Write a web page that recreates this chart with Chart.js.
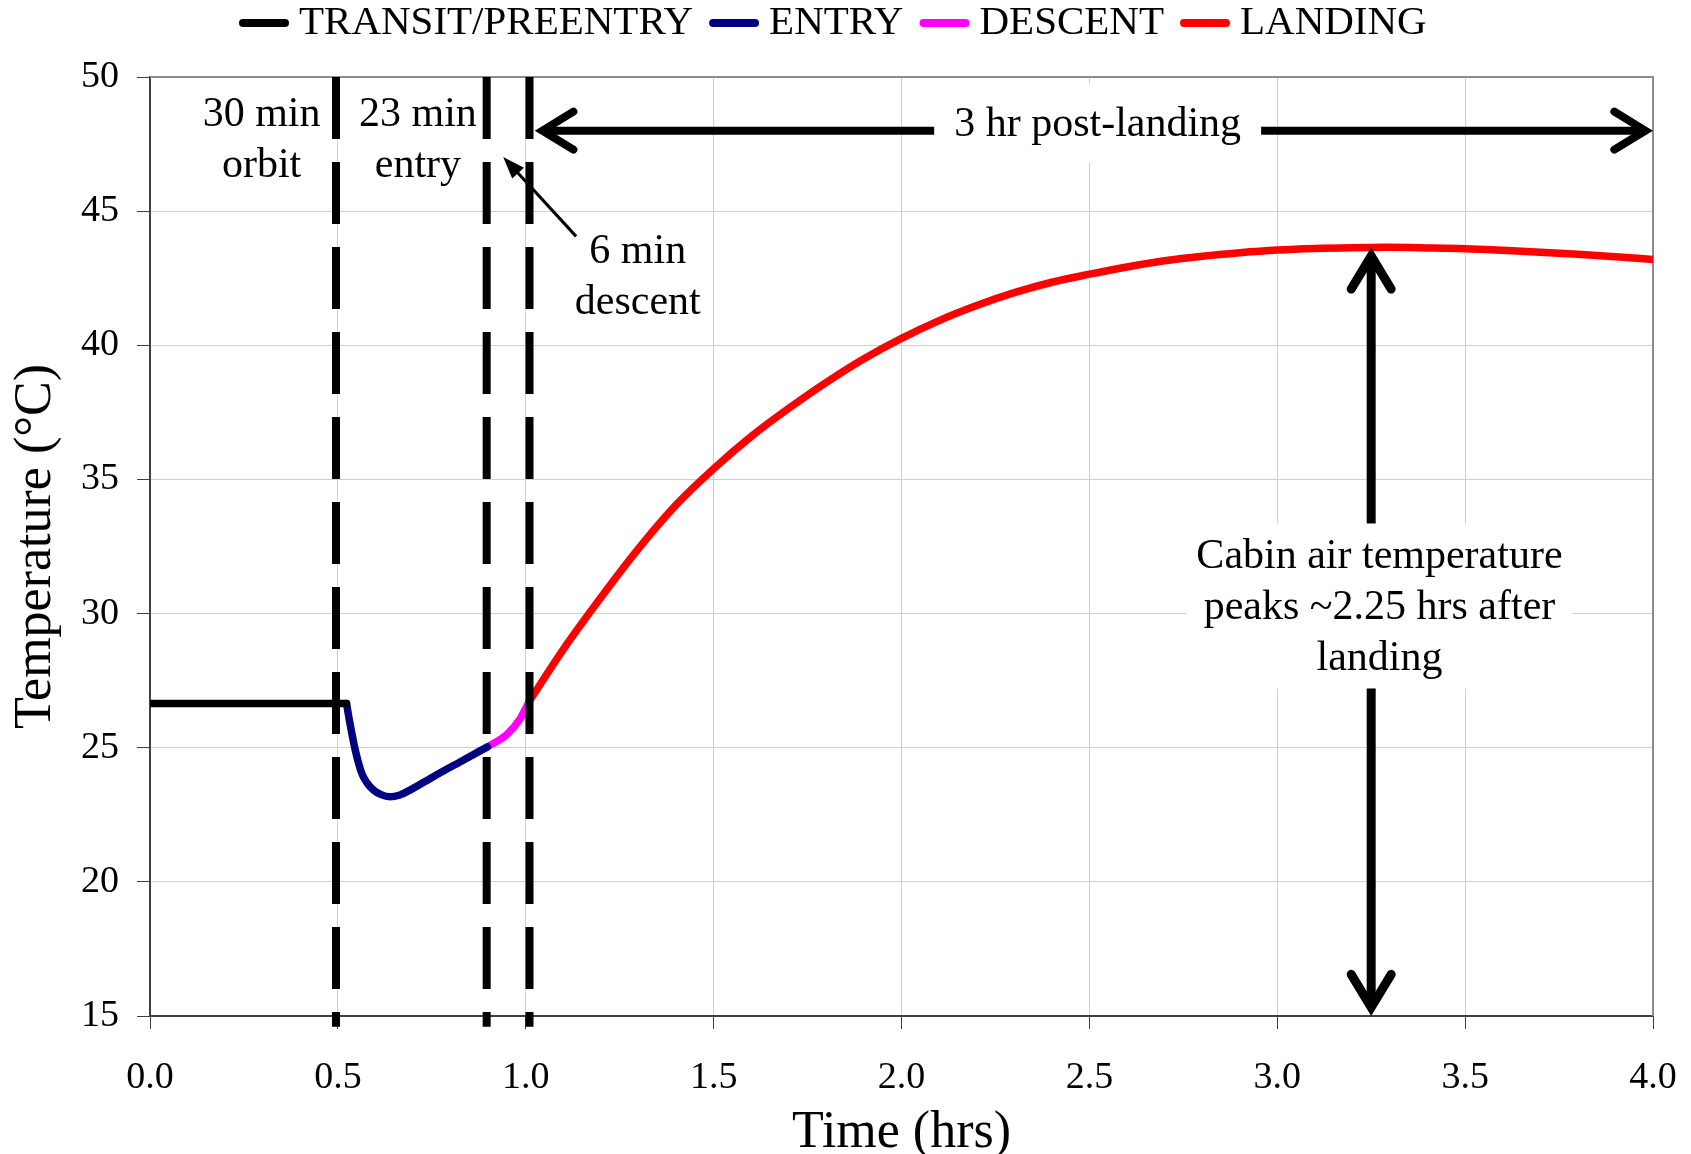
<!DOCTYPE html>
<html>
<head>
<meta charset="utf-8">
<title>Cabin air temperature</title>
<script src="https://cdn.jsdelivr.net/npm/chart.js@4.4.1/dist/chart.umd.min.js"></script>
<style>
  html, body { margin: 0; padding: 0; background: #fff; }
  canvas { display: block; }
</style>
</head>
<body>
<canvas id="tempChart" width="1691" height="1154"></canvas>
<script>
// Cabin air temperature from orbit through entry, descent and 3 hours after landing

const transitHrs = [0, 0.523];
const transitTemp = [26.65, 26.65];

const entryHrs = [0.523, 0.532, 0.546, 0.563, 0.578, 0.595, 0.615, 0.639, 0.665, 0.692, 0.754, 0.825, 0.898];
const entryTemp = [26.65, 25.92, 24.93, 24.07, 23.68, 23.42, 23.25, 23.17, 23.24, 23.42, 23.92, 24.47, 25.03];

const descentHrs = [0.898, 0.949, 0.985, 1.01];
const descentTemp = [25.03, 25.48, 26.08, 26.75];

const landingHrs = [1.01, 1.1, 1.2, 1.3, 1.4, 1.5, 1.6, 1.7, 1.8, 1.9, 2.0, 2.1, 2.2, 2.3, 2.4,
  2.5, 2.6, 2.7, 2.8, 2.9, 3.0, 3.1, 3.2, 3.3, 3.4, 3.5, 3.6, 3.7, 3.8, 3.9, 4.0];
const landingTemp = [26.75, 28.67, 30.6, 32.42, 34.05, 35.4, 36.6, 37.65, 38.62, 39.5, 40.26,
  40.92, 41.48, 41.96, 42.35, 42.65, 42.92, 43.15, 43.32, 43.45, 43.55, 43.61, 43.64, 43.65,
  43.63, 43.6, 43.54, 43.47, 43.39, 43.3, 43.2];

// phase boundaries: end of orbit, end of entry, touchdown
const phaseLineHrs = [0.495, 0.896, 1.01];

// 3 hr post-landing span and the peak marker (landing + 2.25 hrs)
const postLandingSpan = [1.024, 4.0];
const postLandingTemp = 48;
const peakHrs = 3.25;
const peakTemp = 43.65;

const SERIF = "'Liberation Serif', 'Times New Roman', serif";

const notes = [
  { lines: ['30 min', 'orbit'], x: 0.297, y: 48.57 },
  { lines: ['23 min', 'entry'], x: 0.713, y: 48.57 },
  { lines: ['6 min', 'descent'], x: 1.298, y: 43.46 },
  { lines: ['3 hr post-landing'], x: 2.522, y: 48.2, box: [20, 12] },
  { lines: ['Cabin air temperature', 'peaks ~2.25 hrs after', 'landing'], x: 3.272, y: 32.11, box: [10, 4] },
];

function toPoints(xs, ys) {
  return xs.map((x, i) => ({ x, y: ys[i] }));
}

function series(label, xs, ys, color) {
  return {
    label,
    data: toPoints(xs, ys),
    borderColor: color,
    backgroundColor: color,
    borderWidth: 7.5,
    borderCapStyle: 'round',
    pointRadius: 0,
    cubicInterpolationMode: 'monotone',
    order: 1,
  };
}

function phaseLine(x) {
  return {
    label: '',
    isPhaseLine: true,
    data: [{ x, y: 50 }, { x, y: 14.6 }],
    borderColor: '#000',
    borderWidth: 8,
    borderDash: [62, 23],
    pointRadius: 0,
    clip: false,
    order: 0,
  };
}

// open arrow head; the mitred point lands on (tipX, tipY)
function chevron(ctx, tipX, tipY, dirX, dirY, len, spread) {
  const miter = ctx.lineWidth / 2 / Math.sin(Math.atan2(spread, len));
  const ex = tipX - dirX * miter, ey = tipY - dirY * miter;
  const bx = ex - dirX * len, by = ey - dirY * len;
  const px = -dirY * spread, py = dirX * spread;
  ctx.beginPath();
  ctx.moveTo(bx + px, by + py);
  ctx.lineTo(ex, ey);
  ctx.lineTo(bx - px, by - py);
  ctx.stroke();
  return miter;
}

// grey frame on the top and right of the plot area
const plotFrame = {
  id: 'plotFrame',
  beforeDatasetsDraw(chart) {
    const { ctx, chartArea: a } = chart;
    ctx.save();
    ctx.strokeStyle = '#8c8c8c';
    ctx.lineWidth = 2;
    ctx.beginPath();
    ctx.moveTo(a.left, a.top);
    ctx.lineTo(a.right, a.top);
    ctx.lineTo(a.right, a.bottom);
    ctx.stroke();
    ctx.restore();
  },
};

const annotations = {
  id: 'annotations',
  afterDatasetsDraw(chart) {
    const { ctx, scales: { x, y } } = chart;
    ctx.save();
    ctx.strokeStyle = '#000';
    ctx.fillStyle = '#000';
    ctx.lineJoin = 'miter';

    // horizontal double arrow over the post-landing period
    const hy = y.getPixelForValue(postLandingTemp);
    const hx1 = x.getPixelForValue(postLandingSpan[0]);
    const hx2 = x.getPixelForValue(postLandingSpan[1]);
    ctx.lineWidth = 8;
    ctx.lineCap = 'round';
    const hm = chevron(ctx, hx1, hy, -1, 0, 31, 19);
    chevron(ctx, hx2, hy, 1, 0, 31, 19);
    ctx.lineCap = 'butt';
    ctx.beginPath();
    ctx.moveTo(hx1 + hm + 4, hy);
    ctx.lineTo(hx2 - hm - 4, hy);
    ctx.stroke();

    // vertical double arrow from the peak down to the axis
    const vx = x.getPixelForValue(peakHrs);
    const vy1 = y.getPixelForValue(peakTemp);
    const vy2 = y.getPixelForValue(15);
    ctx.lineWidth = 9;
    ctx.lineCap = 'round';
    const vm = chevron(ctx, vx, vy1, 0, -1, 33, 20);
    chevron(ctx, vx, vy2, 0, 1, 33, 20);
    ctx.lineCap = 'butt';
    ctx.beginPath();
    ctx.moveTo(vx, vy1 + vm + 4);
    ctx.lineTo(vx, vy2 - vm - 4);
    ctx.stroke();

    // thin pointer to the descent window
    const tx = x.getPixelForValue(1.134), ty = y.getPixelForValue(44.06);
    const px = x.getPixelForValue(0.94), py = y.getPixelForValue(47.02);
    const ang = Math.atan2(py - ty, px - tx);
    ctx.lineWidth = 3;
    ctx.beginPath();
    ctx.moveTo(tx, ty);
    ctx.lineTo(px - Math.cos(ang) * 12, py - Math.sin(ang) * 12);
    ctx.stroke();
    ctx.beginPath();
    ctx.moveTo(px, py);
    ctx.lineTo(px - Math.cos(ang) * 22 + Math.sin(ang) * 8, py - Math.sin(ang) * 22 - Math.cos(ang) * 8);
    ctx.lineTo(px - Math.cos(ang) * 22 - Math.sin(ang) * 8, py - Math.sin(ang) * 22 + Math.cos(ang) * 8);
    ctx.closePath();
    ctx.fill();

    // text notes, some on a white box that breaks the arrows
    ctx.font = `42px ${SERIF}`;
    ctx.textAlign = 'center';
    ctx.textBaseline = 'middle';
    const lineGap = 51;
    notes.forEach(n => {
      const cx = x.getPixelForValue(n.x);
      const cy = y.getPixelForValue(n.y);
      if (n.box) {
        const w = Math.max(...n.lines.map(l => ctx.measureText(l).width));
        const h = lineGap * n.lines.length;
        ctx.fillStyle = '#fff';
        ctx.fillRect(cx - w / 2 - n.box[0], cy - lineGap / 2 - n.box[1] - 4,
          w + n.box[0] * 2, h + n.box[1] * 2 + 4);
      }
      ctx.fillStyle = '#000';
      n.lines.forEach((l, i) => ctx.fillText(l, cx, cy + i * lineGap));
    });
    ctx.restore();
  },
};

// legend along the top: short thick line then label
const topLegend = {
  id: 'topLegend',
  afterDraw(chart) {
    const ctx = chart.ctx;
    ctx.save();
    ctx.font = `41px ${SERIF}`;
    ctx.textBaseline = 'middle';
    ctx.textAlign = 'left';
    let lx = 239;
    const ly = 23;
    chart.data.datasets.filter(d => !d.isPhaseLine).forEach(ds => {
      ctx.strokeStyle = ds.borderColor;
      ctx.lineWidth = 8;
      ctx.lineCap = 'round';
      ctx.beginPath();
      ctx.moveTo(lx + 4, ly);
      ctx.lineTo(lx + 46, ly);
      ctx.stroke();
      lx += 60;
      ctx.fillStyle = '#000';
      ctx.fillText(ds.label, lx, ly);
      lx += ctx.measureText(ds.label).width + 16;
    });
    ctx.restore();
  },
};

new Chart(document.getElementById('tempChart'), {
  type: 'line',
  data: {
    datasets: [
      series('TRANSIT/PREENTRY', transitHrs, transitTemp, '#000000'),
      series('ENTRY', entryHrs, entryTemp, '#000080'),
      series('DESCENT', descentHrs, descentTemp, '#ff00ff'),
      series('LANDING', landingHrs, landingTemp, '#ff0000'),
      ...phaseLineHrs.map(phaseLine),
    ],
  },
  options: {
    responsive: false,
    animation: false,
    layout: { padding: { top: 77, right: 38 } },
    plugins: {
      legend: { display: false },
      tooltip: { enabled: false },
    },
    scales: {
      x: {
        type: 'linear',
        min: 0,
        max: 4,
        // fixed axis band; the edge labels may overhang the plot sides
        afterFit: s => { s.height = 138; s.paddingLeft = 0; s.paddingRight = 0; },
        ticks: {
          stepSize: 0.5,
          color: '#000',
          padding: 26,
          maxRotation: 0,
          font: { family: SERIF, size: 38 },
          callback: v => v.toFixed(1),
        },
        grid: { color: '#cfcfcf', lineWidth: 1, tickColor: '#404040', tickLength: 13 },
        border: { color: '#404040', width: 2 },
        title: {
          display: true,
          text: 'Time (hrs)',
          color: '#000',
          font: { family: SERIF, size: 52, lineHeight: 0.8 },
          padding: { top: 0, bottom: 0 },
        },
      },
      y: {
        min: 15,
        max: 50,
        afterFit: s => { s.width = 150; },
        ticks: {
          stepSize: 5,
          color: '#000',
          padding: 18,
          font: { family: SERIF, size: 38 },
        },
        grid: { color: '#cfcfcf', lineWidth: 1, tickColor: '#404040', tickLength: 13 },
        border: { color: '#404040', width: 2 },
        title: {
          display: true,
          text: 'Temperature (°C)',
          color: '#000',
          font: { family: SERIF, size: 52, lineHeight: 1 },
          padding: { top: 10, bottom: 0 },
        },
      },
    },
  },
  plugins: [plotFrame, annotations, topLegend],
});
</script>
</body>
</html>
